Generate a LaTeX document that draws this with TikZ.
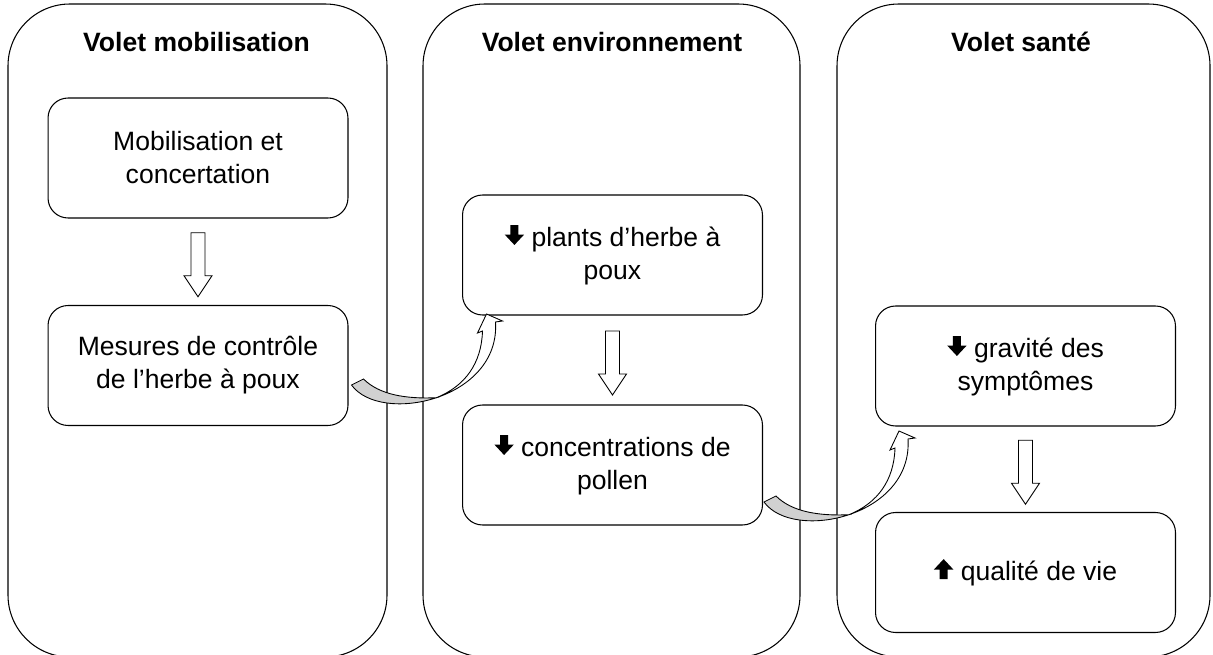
\documentclass[tikz,border=0pt]{standalone}
\usepackage{fontspec}
\setmainfont{Liberation Sans}
\usetikzlibrary{calc}
\newcommand\dn{\tikz[x=1.35pt,y=1.35pt,baseline=-0.8pt,sharp corners]\fill (-1.7,8.4) -- (1.7,8.4) -- (1.7,4.4) -- (4.1,4.4) -- (0,0) -- (-4.1,4.4) -- (-1.7,4.4) -- cycle;}
\newcommand\up{\tikz[x=1.35pt,y=1.35pt,baseline=-0.8pt,sharp corners]\fill (-1.7,0) -- (1.7,0) -- (1.7,4) -- (4.1,4) -- (0,8.4) -- (-4.1,4) -- (-1.7,4) -- cycle;}
\newcommand\hollowdown[2]{%
  \coordinate (m) at ($(#1.south)!0.5!(#2.north)$);
  \draw[hollow] ($(m)+(-7,-29)$) -- ++(0,43) -- ++(-7,0) -- ++(14,21) -- ++(14,-21) -- ++(-7,0) -- ++(0,-43) -- cycle;}
\tikzset{pics/curvearrow/.style={code={
  \draw[line width=0.5pt, fill=black!18] (0,0) .. controls (14.5,20) and (51.75,23.75) .. (84.75,12.75)
    .. controls (55,14) and (28,10) .. (12,-6) -- cycle;
  \draw[line width=0.5pt, fill=white] (84.75,12.75) .. controls (117.75,1.75) and (146.5,-24) .. (144,-63)
    -- (151,-64) -- (135,-71) -- (126,-52) -- (131,-54)
    .. controls (130,-22) and (114,1) .. (84.75,12.75) -- cycle;
}}}

\begin{document}
\begin{tikzpicture}[x=0.02cm, y=-0.02cm,
    panel/.style={draw, line width=0.6pt, rounded corners=1.24cm},
    box/.style={draw, line width=0.6pt, rounded corners=0.4cm, minimum width=6cm, minimum height=2.4cm,
      align=center, font=\fontsize{15.1pt}{18.8pt}\selectfont},
    title/.style={font=\fontsize{15.1pt}{18.8pt}\selectfont\bfseries},
    hollow/.style={draw, line width=0.5pt, fill=white}]
		%%%%% START %%%%%
		
		\useasboundingbox (0,0) rectangle (1213,655);
		
		\draw[panel] (8,4) rectangle (387,657);
		\draw[panel] (423,4) rectangle (800,657);
		\draw[panel] (837,4) rectangle (1210,657);
		
		\node[title] (tmob) at (196.5,42) {Volet mobilisation};
		\node[title] (tenv) at (612,42) {Volet environnement};
		\node[title] (tsan) at (1021,42) {Volet santé};
		
		\node[box] (mobil) at (198,158) {Mobilisation et\\concertation};
		\node[box] (mesures) at (198,365.5) {Mesures de contrôle\\de l’herbe à poux};
		
		\node[box] (plants) at (612.5,255) {\dn\ plants d’herbe à\\poux};
		\node[box] (pollen) at (612.5,465) {\dn\ concentrations de\\pollen};
		
		\node[box] (gravite) at (1025.5,366) {\dn\ gravité des\\symptômes};
		\node[box] (qualite) at (1025.5,572.5) {\up\ qualité de vie};
		
		\hollowdown{mobil}{mesures}
		\hollowdown{plants}{pollen}
		\hollowdown{gravite}{qualite}
		
		\coordinate (c1) at ($(mesures.east)+(3,19.5)$);
		\coordinate (c2) at ($(pollen.east)+(1,37)$);
		\pic at (c1) {curvearrow};
		\pic at (c2) {curvearrow};
		
		%%%%% END %%%%%
\end{tikzpicture}
\end{document}
